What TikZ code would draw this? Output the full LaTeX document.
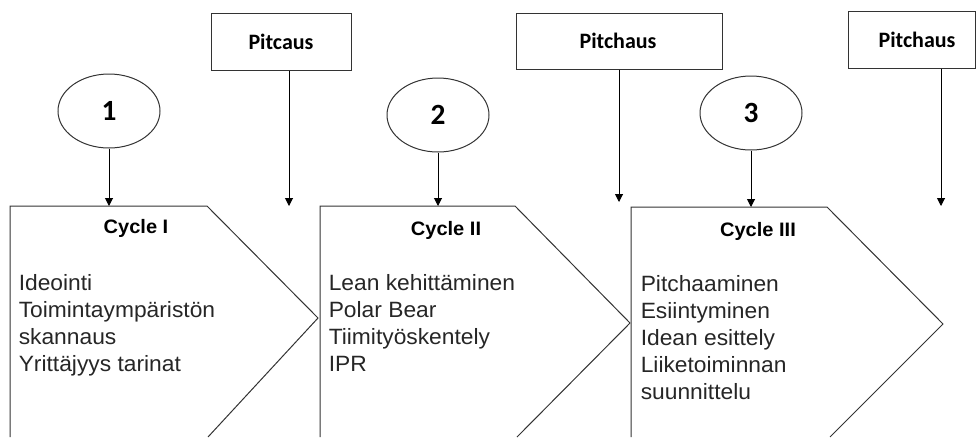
\documentclass[tikz,border=0pt]{standalone}
\usepackage{fontspec}
\setmainfont{Liberation Sans}
\newfontfamily\bodyfont[FakeStretch=1.03]{Liberation Sans}
\newfontfamily\calfont{Carlito}
\usetikzlibrary{arrows.meta,shapes.geometric}
\begin{document}
\begin{tikzpicture}[x=0.75pt,y=-0.75pt,
  outline/.style={draw=black!80, line width=0.75pt},
  arr/.style={draw=black, line width=0.75pt, -{Triangle[width=6pt,length=6pt]}},
  pitchbox/.style={draw=black!80, line width=0.75pt, rectangle, inner sep=0pt},
  pitchtext/.style={anchor=base, inner sep=0pt, font=\calfont\bfseries\fontsize{16.5}{18}\selectfont},
  num/.style={draw=black!80, line width=0.75pt, ellipse, minimum width=76.5pt, minimum height=55.5pt, inner sep=0pt, font=\calfont\bfseries\fontsize{22}{24}\selectfont},
  cycletitle/.style={anchor=base, inner sep=0pt, font=\bodyfont\bfseries\fontsize{14.6}{16}\selectfont},
  cyclebody/.style={anchor=base west, inner sep=0pt, text=black!85, font=\bodyfont\fontsize{16.6}{20.25}\selectfont}]
\useasboundingbox (0,0) rectangle (977,437);

% cycle shapes (cut off at the bottom)
\draw[outline] (10,437) -- (10,206) -- (207,206) -- (318,318) -- (208,437);
\draw[outline] (320,437) -- (320,206) -- (515,206) -- (630,323) -- (517,437);
\draw[outline] (631,437) -- (631,207) -- (827,207) -- (943,324) -- (830,437);

\coordinate (c1) at (109,206);
\coordinate (c2) at (438,206);
\coordinate (c3) at (751,207);

% titles
\node[cycletitle] (t1) at (136,233) {Cycle I};
\node[cycletitle] (t2) at (446,235) {Cycle II};
\node[cycletitle] (t3) at (758,236) {Cycle III};

% bodies
\node[cyclebody] (b1) at (18.5,290) {\begin{tabular}[t]{@{}l@{}}Ideointi\\Toimintaympäristön\\skannaus\\Yrittäjyys tarinat\end{tabular}};
\node[cyclebody] (b2) at (328.5,290) {\begin{tabular}[t]{@{}l@{}}Lean kehittäminen\\Polar Bear\\Tiimityöskentely\\IPR\end{tabular}};
\node[cyclebody] (b3) at (640.5,291) {\begin{tabular}[t]{@{}l@{}}Pitchaaminen\\Esiintyminen\\Idean esittely\\Liiketoiminnan\\suunnittelu\end{tabular}};

% numbered ellipses
\node[num] (e1) at (109,111) {1};
\node[num] (e2) at (438,115) {2};
\node[num] (e3) at (751,113) {3};
\draw[arr] (e1) -- (c1);
\draw[arr] (e2) -- (c2);
\draw[arr] (e3) -- (c3);

% pitch boxes
\node[pitchbox, minimum width=105pt, minimum height=42.75pt] (p1) at (281,41.5) {};
\node[pitchbox, minimum width=154.5pt, minimum height=42pt] (p2) at (619,41) {};
\node[pitchbox, minimum width=95.25pt, minimum height=42.75pt] (p3) at (911.5,39.5) {};
\node[pitchtext] (l1) at (281,49.5) {Pitcaus};
\node[pitchtext] (l2) at (618,48) {Pitchaus};
\node[pitchtext] (l3) at (917,47) {Pitchaus};

\coordinate (a1) at (289,206);
\coordinate (a2) at (619,202);
\coordinate (a3) at (941,206);
\draw[arr] (p1.south -| a1) -- (a1);
\draw[arr] (p2.south -| a2) -- (a2);
\draw[arr] (p3.south -| a3) -- (a3);
\end{tikzpicture}
\end{document}
